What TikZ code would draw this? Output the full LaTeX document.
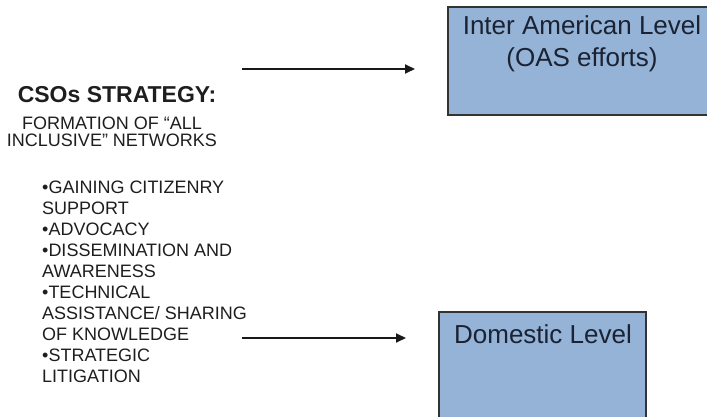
\documentclass[tikz,border=0pt]{standalone}
\usepackage{fontspec}
\setmainfont{Liberation Sans}
\usetikzlibrary{arrows.meta}
\definecolor{boxfill}{HTML}{95B3D6}
\definecolor{boxtext}{HTML}{1A2233}
\definecolor{bodytext}{HTML}{1E1E1E}
\tikzset{
  levelbox/.style={draw=black!80, line width=1.2pt, fill=boxfill},
  leveltext/.style={text=boxtext, font=\fontsize{26}{32}\selectfont, inner sep=0pt, align=center},
  flow/.style={draw=black!90, line width=1.8pt, -{Triangle[length=10pt,width=9pt]}},
  plain/.style={text=bodytext, inner sep=0pt}
}
\begin{document}
\begin{tikzpicture}[x=1pt,y=-1pt]
\useasboundingbox (0,0) rectangle (707,417);
% boxes
\path[levelbox] (448,7) rectangle (712,115);
\path[levelbox] (439,312) rectangle (646,425);
\node[leveltext] (inter) at (582,44) {Inter American Level\\(OAS efforts)};
\node[leveltext] (dom) at (543,334) {Domestic Level};
% left texts
\node[plain, font=\bfseries\fontsize{23}{26}\selectfont] (title) at (117,95) {CSOs STRATEGY:};
\node[plain, font=\fontsize{18}{17.3}\selectfont, align=center] (form) at (112,132) {FORMATION OF “ALL\\INCLUSIVE” NETWORKS};
\node[plain, font=\fontsize{18}{21}\selectfont, align=left, anchor=north west] (list) at (42,181)
 {\textbullet GAINING CITIZENRY\\SUPPORT\\\textbullet ADVOCACY\\\textbullet DISSEMINATION AND\\AWARENESS\\\textbullet TECHNICAL\\ASSISTANCE/ SHARING\\OF KNOWLEDGE\\\textbullet STRATEGIC\\LITIGATION};
% arrows
\coordinate (a1s) at (242,69);
\coordinate (a1e) at (415,69);
\coordinate (a2s) at (242,338);
\coordinate (a2e) at (406,338);
\draw[flow] (a1s) -- (a1e);
\draw[flow] (a2s) -- (a2e);
\end{tikzpicture}
\end{document}
